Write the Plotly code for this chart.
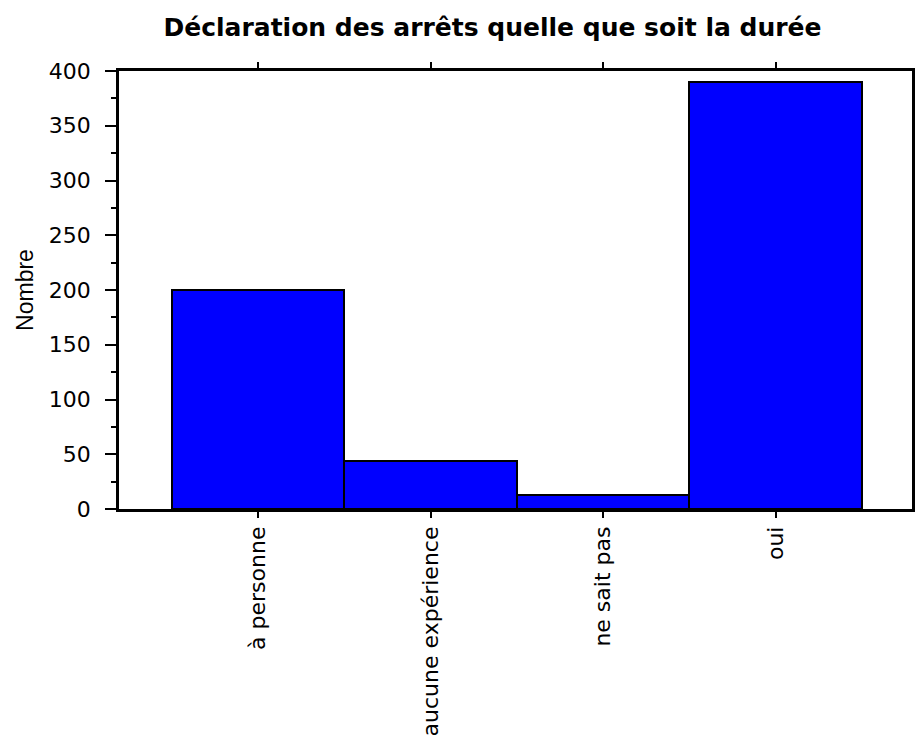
import plotly.graph_objects as go

categories = ["à personne", "aucune expérience", "ne sait pas", "oui"]
values = [200, 44, 13, 390]
title_text = "Déclaration des arrêts quelle que soit la durée"
y_title = "Nombre"

fig = go.Figure()
fig.add_trace(go.Bar(
    x=list(range(len(categories))),
    y=values,
    width=1.0,
    marker=dict(color="#0000FF", line=dict(color="black", width=2)),
    hoverinfo="skip",
))

fig.update_layout(
    width=915, height=735,
    margin=dict(l=119, r=3, t=71, b=226, autoexpand=False),
    paper_bgcolor="white", plot_bgcolor="white",
    showlegend=False,
    bargap=0,
    title=dict(
        text="<b>" + title_text + "</b>",
        font=dict(family="DejaVu Sans", size=25, color="black"),
        x=492.5 / 915, xref="container", xanchor="center",
        y=1 - 27.5 / 735, yref="container", yanchor="middle",
    ),
)

fig.update_xaxes(
    range=[-0.806, 3.79],
    tickmode="array",
    tickvals=list(range(len(categories))),
    ticktext=categories,
    tickangle=-90,
    ticks="outside", ticklen=6, tickwidth=2, tickcolor="black",
    ticklabelstandoff=0,
    showline=True, linewidth=2.5, linecolor="black",
    mirror="ticks",
    showgrid=False, zeroline=False,
    automargin=False,
    tickfont=dict(family="DejaVu Sans", size=22, color="black"),
)

fig.update_yaxes(
    range=[0, 400],
    tickmode="linear", tick0=0, dtick=50,
    ticks="outside", ticklen=11, tickwidth=2, tickcolor="black",
    ticklabelstandoff=10,
    minor=dict(dtick=25, ticks="outside", ticklen=5, tickwidth=2, tickcolor="black", showgrid=False),
    showline=True, linewidth=2.5, linecolor="black",
    mirror=True,
    showgrid=False, zeroline=False,
    automargin=False,
    tickfont=dict(family="DejaVu Sans", size=22, color="black"),
    title=dict(text=y_title, standoff=9,
               font=dict(family="Liberation Sans, Arial", size=23, color="black")),
)

fig.write_html(
    "out.html",
    config={"displayModeBar": False},
    post_script="document.body.style.margin='0';document.body.style.overflow='hidden';",
)
